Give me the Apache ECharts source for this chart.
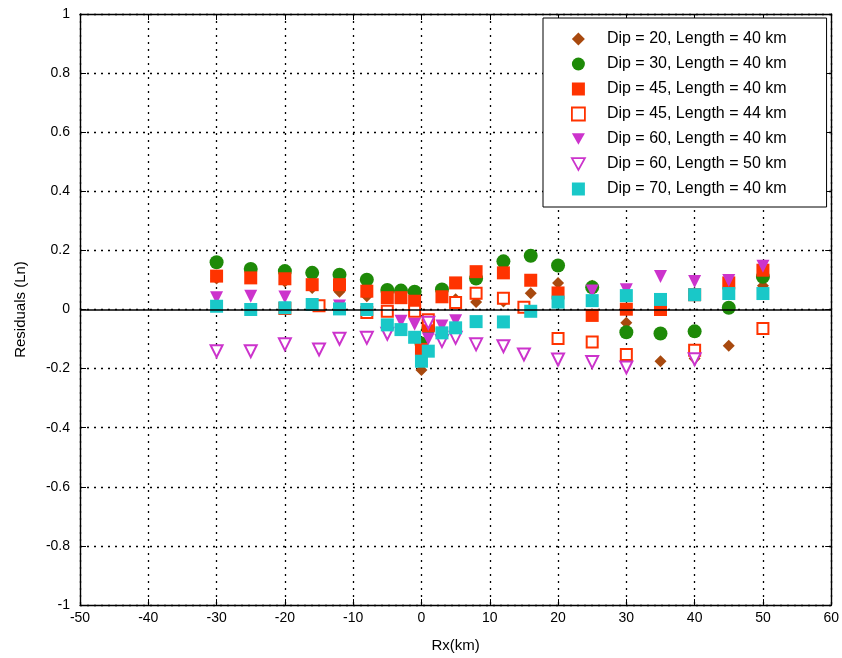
<!DOCTYPE html>
<html>
<head>
<meta charset="utf-8">
<script src="https://cdn.jsdelivr.net/npm/echarts@6/dist/echarts.min.js"></script>
<style>html,body{margin:0;padding:0;background:#fff}#c{width:842px;height:658px}</style>
</head>
<body>
<div id="c"></div>
<script>
const legendNames = ['Dip = 20, Length = 40 km','Dip = 30, Length = 40 km','Dip = 45, Length = 40 km','Dip = 45, Length = 44 km','Dip = 60, Length = 40 km','Dip = 60, Length = 50 km','Dip = 70, Length = 40 km'];
const xTicks = [-50,-40,-30,-20,-10,0,10,20,30,40,50,60];
const yTicks = [-1,-0.8,-0.6,-0.4,-0.2,0,0.2,0.4,0.6,0.8,1];

const dip20len40 = [[-30,0.105],[-20,0.095],[-16,0.073],[-12,0.06],[-8,0.045],[0,-0.205],[5,0.035],[8,0.025],[12,0.027],[16,0.055],[20,0.09],[25,0.08],[30,-0.045],[35,-0.175],[40,-0.166],[45,-0.123],[50,0.08]];
const dip30len40 = [[-30,0.16],[-25,0.137],[-20,0.13],[-16,0.124],[-12,0.118],[-8,0.101],[-5,0.066],[-3,0.064],[-1,0.06],[0,-0.115],[1,-0.065],[3,0.068],[8,0.105],[12,0.163],[16,0.182],[20,0.149],[25,0.075],[30,-0.077],[35,-0.081],[40,-0.074],[45,0.006],[50,0.111]];
const dip45len40 = [[-30,0.113],[-25,0.107],[-20,0.104],[-16,0.084],[-12,0.084],[-8,0.062],[-5,0.04],[-3,0.04],[-1,0.028],[0,-0.135],[1,-0.055],[3,0.043],[5,0.09],[8,0.128],[12,0.124],[16,0.099],[20,0.056],[25,-0.02],[30,0.001],[35,0.0],[40,0.05],[45,0.09],[50,0.133]];
const dip45len44 = [[-20,0.003],[-15,0.013],[-8,-0.01],[-5,-0.006],[-1,-0.006],[1,-0.035],[5,0.024],[8,0.055],[12,0.038],[15,0.008],[20,-0.098],[25,-0.11],[30,-0.152],[40,-0.138],[50,-0.064]];
const dip60len40 = [[-30,0.04],[-25,0.045],[-20,0.042],[-12,0.012],[-3,-0.04],[-1,-0.05],[1,-0.1],[3,-0.056],[5,-0.038],[25,0.063],[30,0.067],[35,0.112],[40,0.095],[45,0.098],[50,0.146]];
const dip60len50 = [[-30,-0.141],[-25,-0.141],[-20,-0.118],[-15,-0.135],[-12,-0.099],[-8,-0.096],[-5,-0.082],[1,-0.045],[3,-0.107],[5,-0.096],[8,-0.118],[12,-0.124],[15,-0.152],[20,-0.169],[25,-0.178],[30,-0.196],[40,-0.168]];
const dip70len40 = [[-30,0.011],[-25,0.0],[-20,0.006],[-16,0.017],[-12,0.002],[-8,0.0],[-5,-0.052],[-3,-0.068],[-1,-0.094],[0,-0.175],[1,-0.141],[3,-0.079],[5,-0.062],[8,-0.041],[12,-0.042],[16,-0.006],[20,0.025],[25,0.03],[30,0.047],[35,0.034],[40,0.05],[45,0.054],[50,0.054]];

const FONT = 'Liberation Sans, Arial, sans-serif';
const chart = echarts.init(document.getElementById('c'), null, {renderer:'canvas'});

function axisCommon(showLabel){
  return {
    axisLine:{show:true,onZero:false,lineStyle:{color:'#000',width:1.4}},
    axisTick:{show:true,inside:true,length:6,lineStyle:{color:'#000',width:1}},
    axisLabel:{show:showLabel,color:'#000',fontFamily:FONT,fontSize:14},
  };
}

const DOWN_TRI = 'path://M0,0L10,0L5,9Z';
const seriesDefs = [
  {data:dip20len40, symbol:'diamond', size:12, color:'#A8490E', icon:'diamond', fill:'#A8490E'},
  {data:dip30len40, symbol:'circle', size:14, color:'#1E8A08', icon:'circle', fill:'#1E8A08'},
  {data:dip45len40, symbol:'rect', size:13, color:'#FF3300', icon:'rect', fill:'#FF3300'},
  {data:dip45len44, symbol:'emptyRect', size:11, color:'#FF3300', icon:'rect', fill:'#fff'},
  {data:dip60len40, symbol:'triangle', size:13, color:'#CC33CC', rotate:180, icon:DOWN_TRI, fill:'#CC33CC'},
  {data:dip60len50, symbol:'emptyTriangle', size:12, color:'#CC33CC', rotate:180, icon:DOWN_TRI, fill:'#fff'},
  {data:dip70len40, symbol:'rect', size:13, color:'#19C8C8', icon:'rect', fill:'#19C8C8'}
];

const series = seriesDefs.map((d,i)=>({
  name: legendNames[i],
  type:'scatter',
  data:d.data,
  symbol:d.symbol,
  symbolSize:d.size,
  symbolRotate:d.rotate||0,
  itemStyle:{color:d.color, borderColor:d.color, borderWidth: d.symbol.startsWith('empty')?2:0, opacity:1},
  emphasis:{disabled:true},
  animation:false
}));
series.push({
  type:'scatter', data:[], silent:true, z:5,
  markLine:{silent:true,symbol:'none',label:{show:false},animation:false,
    lineStyle:{color:'#000',width:1.5,type:'solid'},data:[{yAxis:0}]}
});

const legendData = seriesDefs.map((d,i)=>({
  name:legendNames[i], icon:d.icon,
  itemStyle:{color:d.fill, borderColor:d.color, borderWidth: d.fill==='#fff'?1.8:0}
}));

const option = {
  backgroundColor:'#fff',
  animation:false,
  grid:{left:80,right:10,top:14,bottom:51,containLabel:false},
  legend:{
    data:legendData, orient:'vertical', left:543, top:18,
    padding:[13,40,10,28], itemGap:9, itemWidth:13, itemHeight:13,
    backgroundColor:'#fff', borderColor:'#000', borderWidth:1,
    textStyle:{color:'#000',fontFamily:FONT,fontSize:16,padding:[0,0,0,17]},
    selectedMode:false
  },
  xAxis:[
    Object.assign({type:'value',min:xTicks[0],max:xTicks[xTicks.length-1],interval:10,position:'bottom',
      name:'Rx(km)',nameLocation:'middle',nameGap:33,nameTextStyle:{color:'#000',fontFamily:FONT,fontSize:15},
      splitLine:{show:true,lineStyle:{color:'#000',type:[2,5],width:1.3}}},axisCommon(true),
      {axisLabel:{show:true,color:'#000',fontFamily:FONT,fontSize:14,margin:6}}),
    Object.assign({type:'value',min:xTicks[0],max:xTicks[xTicks.length-1],interval:10,position:'top',
      splitLine:{show:false}},axisCommon(false))
  ],
  yAxis:[
    Object.assign({type:'value',min:yTicks[0],max:yTicks[yTicks.length-1],interval:0.2,position:'left',
      name:'Residuals (Ln)',nameLocation:'middle',nameGap:52,nameTextStyle:{color:'#000',fontFamily:FONT,fontSize:15},
      splitLine:{show:true,lineStyle:{color:'#000',type:[2,5],width:1.3}}},axisCommon(true),
      {axisLabel:{show:true,color:'#000',fontFamily:FONT,fontSize:14,margin:10,
        formatter:v=>String(Math.round(v*10)/10)}}),
    Object.assign({type:'value',min:yTicks[0],max:yTicks[yTicks.length-1],interval:0.2,position:'right',
      splitLine:{show:false}},axisCommon(false))
  ],
  series:series
};
chart.setOption(option);
</script>
</body>
</html>
